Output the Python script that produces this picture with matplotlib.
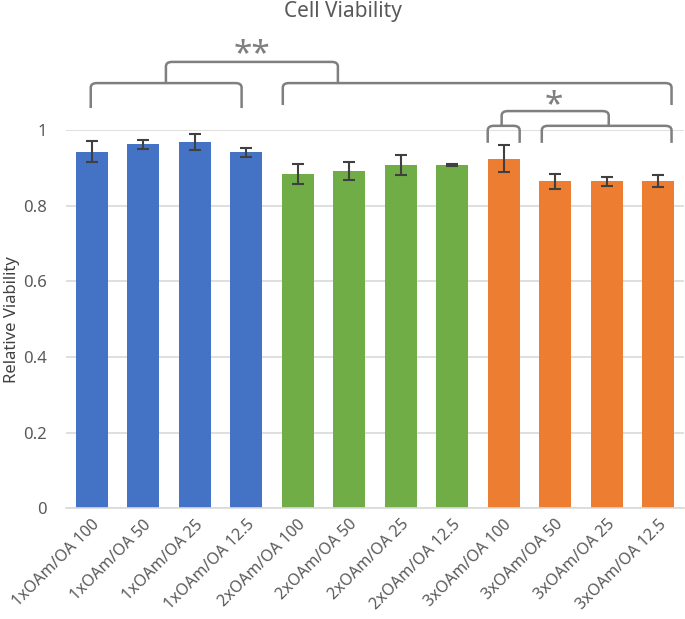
import matplotlib
matplotlib.use("Agg")
import matplotlib.pyplot as plt
from matplotlib.path import Path
from matplotlib.patches import PathPatch

labels = ["1xOAm/OA 100", "1xOAm/OA 50", "1xOAm/OA 25", "1xOAm/OA 12.5",
          "2xOAm/OA 100", "2xOAm/OA 50", "2xOAm/OA 25", "2xOAm/OA 12.5",
          "3xOAm/OA 100", "3xOAm/OA 50", "3xOAm/OA 25", "3xOAm/OA 12.5"]
values = [0.943, 0.962, 0.969, 0.941, 0.883, 0.891, 0.907, 0.907,
          0.924, 0.864, 0.864, 0.864]
errors = [0.027, 0.011, 0.021, 0.012, 0.026, 0.024, 0.027, 0.003,
          0.036, 0.019, 0.011, 0.016]
colors = ["#4472C4"] * 4 + ["#70AD47"] * 4 + ["#ED7D31"] * 4

# brackets: (x_left, x_right, y_bottom, y_top) in data units
brackets = [(-0.02, 2.91, 1.058, 1.124),
            (3.71, 11.26, 1.066, 1.124),
            (1.44, 4.78, 1.124, 1.180),
            (7.69, 8.31, 0.966, 1.011),
            (8.74, 11.26, 0.966, 1.011),
            (7.96, 10.04, 1.011, 1.050)]
stars = [("**", 3.11, 1.200), ("*", 8.97, 1.064)]

plt.rcParams['font.family'] = ['Noto Sans', 'DejaVu Sans']
fig = plt.figure(figsize=(6.85, 6.19), dpi=100)
ax = fig.add_axes([0.0964, 0.179, 0.902, 0.611])

x = list(range(len(labels)))
ax.bar(x, values, width=0.62, color=colors, zorder=2)
ax.errorbar(x, values, yerr=errors, fmt="none", ecolor="#404040",
            elinewidth=1.5, capsize=4, capthick=1.5, zorder=3)

ax.set_xlim(-0.5, 11.5)
ax.set_ylim(0, 1)
ax.set_yticks([0, 0.2, 0.4, 0.6, 0.8, 1])
ax.set_yticklabels(["0", "0.2", "0.4", "0.6", "0.8", "1"])
ax.yaxis.grid(True, color="#d9d9d9", lw=1.2, zorder=0)
ax.set_axisbelow(True)
for s in ["top", "right", "left"]:
    ax.spines[s].set_visible(False)
ax.spines["bottom"].set_color("#d9d9d9")
ax.spines["bottom"].set_linewidth(1.2)
ax.tick_params(axis="y", length=0, labelsize=12, labelcolor="#595959", pad=14)
ax.tick_params(axis="x", length=0, labelsize=11.5, labelcolor="#595959", pad=6)
ax.set_xticks(x)
ax.set_xticklabels(labels, rotation=45, ha="right", rotation_mode="anchor")
ax.set_ylabel("Relative Viability", fontsize=12, color="#404040", labelpad=2)

r = 0.12  # corner rounding in x units
for xl, xr, yb, yt in brackets:
    ry = 0.012
    verts = [(xl, yb), (xl, yt - ry), (xl, yt), (xl + r, yt),
             (xr - r, yt), (xr, yt), (xr, yt - ry), (xr, yb)]
    codes = [Path.MOVETO, Path.LINETO, Path.CURVE3, Path.CURVE3,
             Path.LINETO, Path.CURVE3, Path.CURVE3, Path.LINETO]
    ax.add_patch(PathPatch(Path(verts, codes), fill=False, edgecolor="#7f7f7f",
                           lw=1.8, clip_on=False))

for txt, sx, sy in stars:
    ax.text(sx, sy, txt, ha="center", va="center", fontsize=24,
            color="#7f7f7f", fontweight="bold", clip_on=False)

fig.suptitle("Cell Viability", fontsize=15, color="#595959", y=0.998)
fig.savefig("out.png", dpi=100)
